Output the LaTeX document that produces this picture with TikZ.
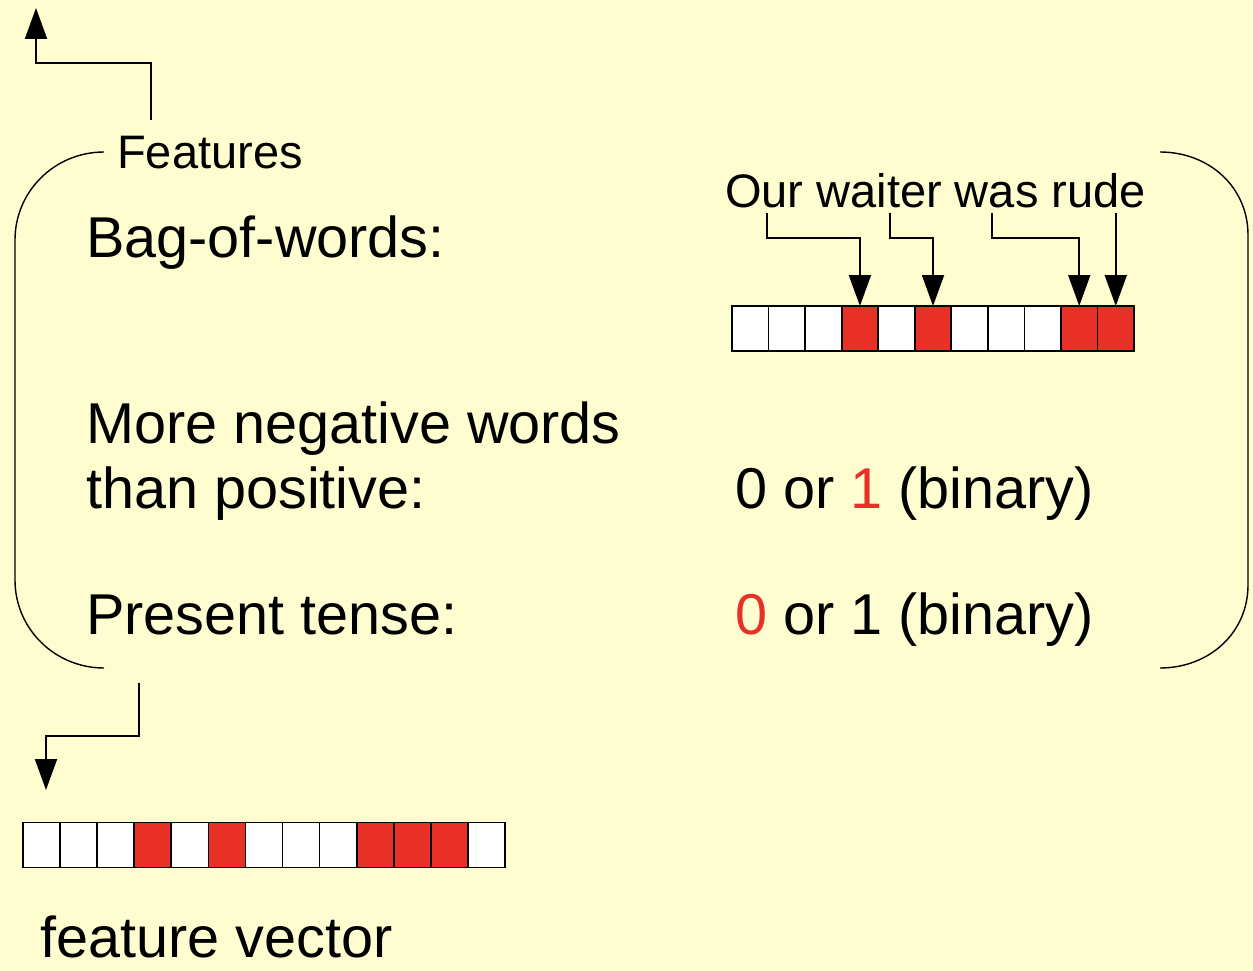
\documentclass[tikz,border=0pt]{standalone}
\usepackage{fontspec}
\setmainfont{Liberation Sans}
\usetikzlibrary{arrows.meta}
\definecolor{paper}{RGB}{254,253,208}
\definecolor{hot}{RGB}{232,48,38}

\begin{document}
\begin{tikzpicture}[x=1pt,y=-1pt,
  big/.style={font=\fontsize{57.6}{68}\selectfont, inner sep=0pt, anchor=base west},
  small/.style={font=\fontsize{47}{56}\selectfont, inner sep=0pt, anchor=base west},
  cell/.style={draw=black, line width=1.7pt, minimum height=45pt, inner sep=0pt, outer sep=0pt},
  link/.style={line width=1.9pt, -{Triangle[length=31pt,width=22pt]}},
  brace/.style={line width=1.4pt}
]
% page background
\fill[paper] (0,0) rectangle (1253,971);
\useasboundingbox (0,0) rectangle (1253,971);

% labels
\node[small] (feat)  at (117,168) {Features};
\node[big]   (bag)   at (86,257)  {Bag-of-words:};
\node[small] (sent)  at (725,207) {Our waiter was rude};
\node[big]   (neg1)  at (86,443)  {More negative words};
\node[big]   (neg2)  at (86,508)  {than positive:};
\node[big]   (val1)  at (735,508) {0 or \textcolor{hot}{1} (binary)};
\node[big]   (tense) at (86,634)  {Present tense:};
\node[big]   (val2)  at (735,634) {\textcolor{hot}{0} or 1 (binary)};
\node[big]   (fv)    at (40,957)  {feature vector};

% bag-of-words vector
\foreach \c [count=\i] in {white,white,white,hot,white,hot,white,white,white,hot,hot}
  \node[cell, fill=\c, minimum width=36.55pt] (b\i) at ({732+36.55*(\i-0.5)},328.5) {};

% full feature vector
\foreach \c [count=\i] in {white,white,white,hot,white,hot,white,white,white,hot,hot,hot,white}
  \node[cell, fill=\c, minimum width=37.08pt] (f\i) at ({23+37.08*(\i-0.5)},845) {};

% word pointers
\coordinate (wOur)    at (767,213);
\coordinate (wWaiter) at (890,213);
\coordinate (wWas)    at (992,213);
\path (b11.north) ++(0,-93) coordinate (wRude);
\draw[link] (wOur)    -- ++(0,25) -| (b4.north);
\draw[link] (wWaiter) -- ++(0,25) -| (b6.north);
\draw[link] (wWas)    -- ++(0,25) -| (b10.north);
\draw[link] (wRude)   -- (b11.north);

% grouping brackets
\draw[brace] (104,152) .. controls (55,152) and (15,191) .. (15,240)
             -- (15,580) .. controls (15,629) and (55,668) .. (104,668);
\draw[brace] (1160,152) .. controls (1209,152) and (1248,187) .. (1248,235)
             -- (1248,585) .. controls (1248,633) and (1209,668) .. (1160,668);

% flow in and out of the feature group
\coordinate (upStart)   at (151,120);
\coordinate (upEnd)     at (36,8);
\coordinate (downStart) at (139,683);
\coordinate (downEnd)   at (46,790);
\draw[link] (upStart)   -- ++(0,-57) -| (upEnd);
\draw[link] (downStart) -- ++(0,53)  -| (downEnd);
\end{tikzpicture}
\end{document}
